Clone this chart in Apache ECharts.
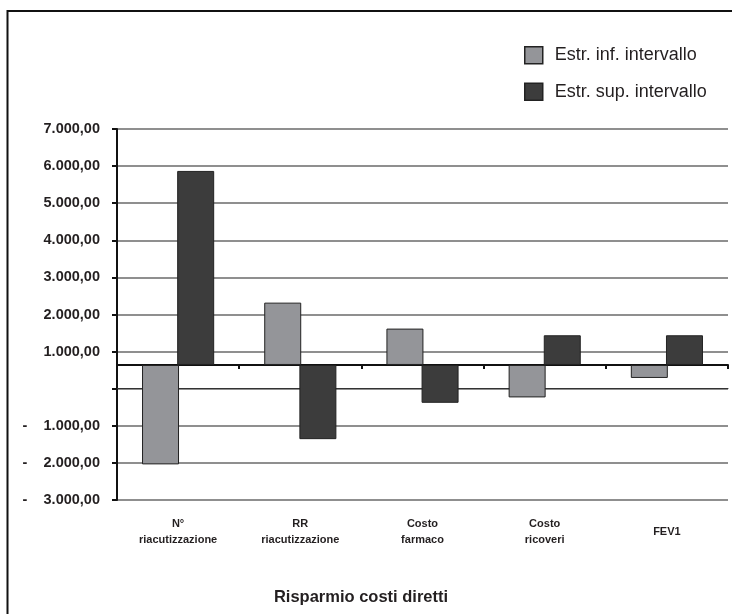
<!DOCTYPE html>
<html>
<head>
<meta charset="utf-8">
<script src="https://cdn.jsdelivr.net/npm/echarts@6/dist/echarts.min.js"></script>
<style>html,body{margin:0;padding:0;background:#fff}#c{width:732px;height:614px}</style>
</head>
<body>
<div id="c"></div>
<script>
// ---- data ----
const categories = ['N°\nriacutizzazione', 'RR\nriacutizzazione', 'Costo\nfarmaco', 'Costo\nricoveri', 'FEV1'];
const seriesNames = ['Estr. inf. intervallo', 'Estr. sup. intervallo'];
const infValues = [-2040, 2320, 1620, -235, 290];
const supValues = [5870, -1360, -380, 1440, 1440];
const crossValue = 640;          // value where the category axis crosses the value axis
const yMin = -3000, yMax = 7000, yStep = 1000;

// ---- layout ----
const FONT = "'Liberation Sans', Arial, Helvetica, sans-serif";
const gridTop = 129, gridBottom = 114, gridLeft = 117, gridRight = 4;
const plotH = 614 - gridTop - gridBottom;
const crossOffset = -((crossValue - yMin) / (yMax - yMin)) * plotH;

function fmt(v) {
  const s = Math.abs(v).toFixed(2).split('.');
  const int = s[0].replace(/\B(?=(\d{3})+(?!\d))/g, '.');
  return int + ',' + s[1];
}

const chart = echarts.init(document.getElementById('c'), null, {renderer: 'canvas'});
const base = categories.map(() => crossValue);
const colors = ['#949599', '#3c3c3c'];

function barPair(name, stack, values, color) {
  return [
    {
      name: stack + '_base', type: 'bar', stack: stack, stackStrategy: 'all',
      data: base, barWidth: 37, barGap: '-5%', silent: true,
      itemStyle: {color: 'transparent', borderWidth: 0}, emphasis: {disabled: true}
    },
    {
      name: name, type: 'bar', stack: stack, stackStrategy: 'all',
      data: values.map(v => v - crossValue), barWidth: 37, barGap: '-5%',
      itemStyle: {color: color, borderColor: '#222', borderWidth: 1}
    }
  ];
}

chart.setOption({
  animation: false,
  backgroundColor: '#fff',
  textStyle: {fontFamily: FONT},
  grid: {left: gridLeft, right: gridRight, top: gridTop, bottom: gridBottom},
  legend: {
    data: seriesNames.map((n, i) => ({name: n, icon: 'rect', itemStyle: {color: colors[i], borderColor: '#222', borderWidth: 1.5}})),
    orient: 'vertical', left: 519, top: 41,
    itemWidth: 18, itemHeight: 17, itemGap: 18,
    textStyle: {fontSize: 18, color: '#231f20', fontFamily: FONT, padding: [0, 0, 0, 7]},
    selectedMode: false
  },
  title: {
    text: 'Risparmio costi diretti', left: 356, top: 584, textAlign: 'center',
    textStyle: {fontSize: 16.5, fontWeight: 'bold', color: '#231f20', fontFamily: FONT}
  },
  graphic: [{
    type: 'rect', shape: {x: 7.5, y: 11, width: 800, height: 700},
    style: {fill: 'none', stroke: '#111', lineWidth: 2}, silent: true, z: 100
  }],
  xAxis: [
    {
      type: 'category', data: categories, position: 'bottom',
      axisLine: {show: true, lineStyle: {color: '#333', width: 1}},
      axisTick: {show: false},
      axisLabel: {
        interval: 0, fontSize: 11, fontWeight: 'bold', color: '#231f20', fontFamily: FONT,
        lineHeight: 16, verticalAlign: 'middle', margin: 32
      }
    },
    {
      type: 'category', data: categories, position: 'bottom', offset: crossOffset,
      axisLine: {show: true, lineStyle: {color: '#111', width: 2}},
      axisTick: {show: true, length: 4, lineStyle: {color: '#111', width: 2}},
      axisLabel: {show: false}
    }
  ],
  yAxis: {
    type: 'value', min: yMin, max: yMax, interval: yStep,
    axisLine: {show: true, lineStyle: {color: '#111', width: 2}},
    axisTick: {show: true, length: 5, lineStyle: {color: '#111', width: 2}},
    splitLine: {show: true, lineStyle: {color: '#6a6a6a', width: 1.5}},
    axisLabel: {
      margin: 17, color: '#231f20', fontFamily: FONT,
      formatter: function (v) {
        if (v === 0) return '';
        if (v < 0) return '{m|-}{n|' + fmt(v) + '}';
        return '{n|' + fmt(v) + '}';
      },
      rich: {
        m: {width: 21, align: 'left', fontSize: 14.5, fontWeight: 'bold', color: '#231f20', fontFamily: FONT},
        n: {fontSize: 14.5, fontWeight: 'bold', color: '#231f20', fontFamily: FONT}
      }
    }
  },
  series: [].concat(
    barPair(seriesNames[0], 'inf', infValues, colors[0]),
    barPair(seriesNames[1], 'sup', supValues, colors[1])
  )
});
</script>
</body>
</html>
